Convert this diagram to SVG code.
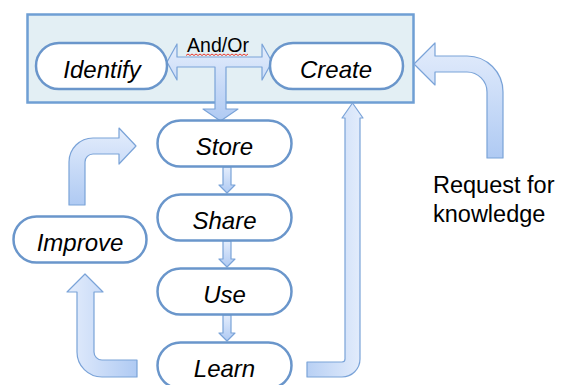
<svg xmlns="http://www.w3.org/2000/svg" width="561" height="385" viewBox="0 0 561 385">
<defs>
<linearGradient id="gV" x1="0" y1="0" x2="0" y2="1"><stop offset="0" stop-color="#e4edfc"/><stop offset="1" stop-color="#afcaf3"/></linearGradient>
<linearGradient id="gH" x1="0" y1="0" x2="1" y2="0"><stop offset="0" stop-color="#e4edfc"/><stop offset="1" stop-color="#afcaf3"/></linearGradient>
<linearGradient id="gHr" x1="1" y1="0" x2="0" y2="0"><stop offset="0" stop-color="#e4edfc"/><stop offset="1" stop-color="#b8d0f4"/></linearGradient>
<style>
.pill{fill:#ffffff;stroke:#6a96cb;stroke-width:2.5}
.lbl{font-family:"Liberation Sans",Arial,sans-serif;font-style:italic;font-size:24px;fill:#000;text-anchor:middle}
.arr{stroke:#7aa3d8;stroke-width:1.2;stroke-linejoin:round}
.txt{font-family:"Liberation Sans",Arial,sans-serif;fill:#000}
</style>
</defs>
<g id="frame">
<rect x="27.5" y="14.5" width="386" height="88" fill="#e3eff4" stroke="#6f9fd4" stroke-width="2.5"/>
</g>
<g id="connectors">
<path class="arr" fill="url(#gV)" d="M167,62 L177,44 L177,57 L262,57 L262,44 L272,62 L262,80 L262,67 L226,67 L226,109 L238,109 L220.5,121 L203,109 L215,109 L215,67 L177,67 L177,80 Z"/>
<path d="M186,55.5 l2,-1.5 2,1.5 2,-1.5 2,1.5 2,-1.5 2,1.5 2,-1.5 2,1.5 2,-1.5 2,1.5 2,-1.5 2,1.5 2,-1.5 2,1.5 2,-1.5 2,1.5 2,-1.5 2,1.5 2,-1.5 2,1.5 2,-1.5 2,1.5 2,-1.5 2,1.5 2,-1.5 2,1.5 2,-1.5 2,1.5 2,-1.5 2,1.5 2,-1.5" fill="none" stroke="#e8392f" stroke-width="1"/>
<path class="arr" fill="url(#gV)" d="M223,167 L231,167 L231,185 L235,185 L227,193 L219,185 L223,185 Z"/>
<path class="arr" fill="url(#gV)" d="M223,241 L231,241 L231,259 L235,259 L227,267 L219,259 L223,259 Z"/>
<path class="arr" fill="url(#gV)" d="M223,315 L231,315 L231,333 L235,333 L227,341 L219,333 L223,333 Z"/>
<path class="arr" fill="url(#gV)" d="M435,56 L467,56 A36,36 0 0 1 503,92 L503,158 L487,158 L487,92 A20,20 0 0 0 467,72 L435,72 L435,85 L414,64 L435,43 Z"/>
<path class="arr" fill="url(#gV)" d="M69,205 L69,162 A24,24 0 0 1 93,138 L119,138 L119,128 L136,146 L119,164 L119,154 L93,154 A8,8 0 0 0 85,162 L85,205 Z"/>
<path class="arr" fill="url(#gH)" d="M137,360 L102,360 A8,8 0 0 1 94,352 L94,292 L103,292 L85,274 L67,292 L77,292 L77,352 A25,25 0 0 0 102,377 L137,377 Z"/>
<path class="arr" fill="url(#gHr)" d="M307,362 L342,362 A3,3 0 0 0 345,359 L345,118 L342,118 L352.5,103 L363,118 L360,118 L360,359 A18,18 0 0 1 342,377 L307,377 Z"/>
</g>
<g id="identify"><rect class="pill" x="36" y="43" width="131" height="46" rx="23"/><text class="lbl" x="102" y="78">Identify</text></g>
<g id="create"><rect class="pill" x="270" y="43" width="133" height="46" rx="23"/><text class="lbl" x="336" y="78">Create</text></g>
<g id="andor"><text class="txt" x="218" y="52" font-size="19.5" text-anchor="middle">And/Or</text></g>
<g id="store"><rect class="pill" x="157.5" y="120.5" width="134" height="46" rx="23"/><text class="lbl" x="224.5" y="154.5">Store</text></g>
<g id="share"><rect class="pill" x="157.5" y="194.5" width="134" height="46" rx="23"/><text class="lbl" x="224.5" y="228.5">Share</text></g>
<g id="use"><rect class="pill" x="157.5" y="268.5" width="134" height="46" rx="23"/><text class="lbl" x="224.5" y="302.5">Use</text></g>
<g id="learn"><rect class="pill" x="157.5" y="342.5" width="134" height="46" rx="23"/><text class="lbl" x="224.5" y="376.5">Learn</text></g>
<g id="improve"><rect class="pill" x="13.5" y="216.5" width="133" height="46" rx="23"/><text class="lbl" x="80" y="250.5">Improve</text></g>
<g id="request"><text class="txt" font-size="23.5" x="433" y="193">Request for</text><text class="txt" font-size="23.5" x="433" y="222">knowledge</text></g>
</svg>
